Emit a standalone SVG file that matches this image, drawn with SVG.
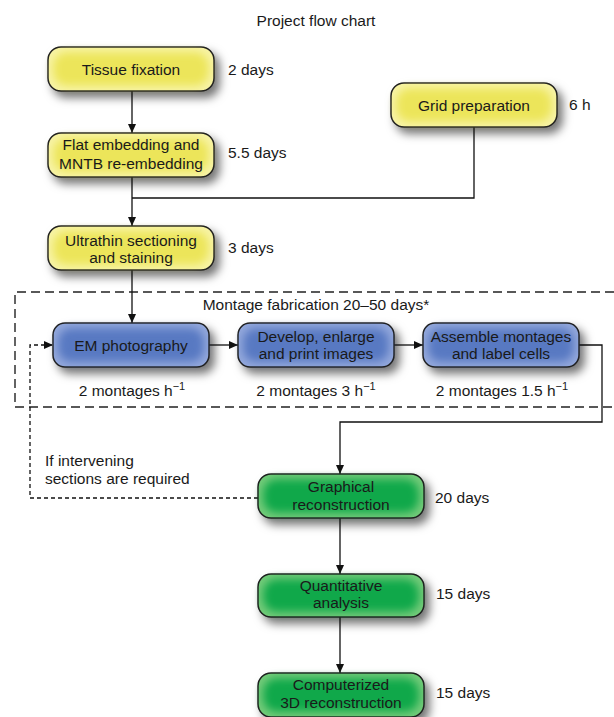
<svg xmlns="http://www.w3.org/2000/svg" width="614" height="717" viewBox="0 0 614 717">
<style>
text{font-family:"Liberation Sans",Arial,Helvetica,sans-serif;font-size:15.5px;fill:#1a1a1a}
.c{text-anchor:middle}
.box{stroke:#1e1e1e;stroke-width:1.5}
.y{fill:#f8f4a6;filter:url(#fy)}
.b{fill:#93a8dc;filter:url(#fb)}
.g{fill:#74cc7a;filter:url(#fg)}
.ln{fill:none;stroke:#111;stroke-width:1.3}
.dl{fill:none;stroke:#111;stroke-width:1.3;stroke-dasharray:4 3}
.frame{fill:none;stroke:#222;stroke-width:1.4;stroke-dasharray:9 5}
.sup{font-size:11px}
</style>
<defs>
<marker id="ah" markerUnits="userSpaceOnUse" markerWidth="9" markerHeight="8" refX="9" refY="4" orient="auto">
<path d="M0,0 L9,4 L0,8 z" fill="#111"/>
</marker>
<filter id="fy" x="-20%" y="-40%" width="150%" height="200%" color-interpolation-filters="sRGB">
<feMorphology in="SourceAlpha" operator="erode" radius="6" result="er"/>
<feGaussianBlur in="er" stdDeviation="4" result="bl"/>
<feFlood flood-color="#ece55a" result="fc"/>
<feComposite in="fc" in2="bl" operator="in" result="inner"/>
<feGaussianBlur in="SourceAlpha" stdDeviation="5" result="sb"/>
<feOffset in="sb" dx="5" dy="6" result="so"/>
<feFlood flood-color="#000" flood-opacity="0.55"/>
<feComposite in2="so" operator="in" result="shadow"/>
<feMerge><feMergeNode in="shadow"/><feMergeNode in="SourceGraphic"/><feMergeNode in="inner"/></feMerge>
</filter>
<filter id="fb" x="-20%" y="-40%" width="150%" height="200%" color-interpolation-filters="sRGB">
<feMorphology in="SourceAlpha" operator="erode" radius="6" result="er"/>
<feGaussianBlur in="er" stdDeviation="4" result="bl"/>
<feFlood flood-color="#5879c2" result="fc"/>
<feComposite in="fc" in2="bl" operator="in" result="inner"/>
<feGaussianBlur in="SourceAlpha" stdDeviation="5" result="sb"/>
<feOffset in="sb" dx="5" dy="6" result="so"/>
<feFlood flood-color="#000" flood-opacity="0.55"/>
<feComposite in2="so" operator="in" result="shadow"/>
<feMerge><feMergeNode in="shadow"/><feMergeNode in="SourceGraphic"/><feMergeNode in="inner"/></feMerge>
</filter>
<filter id="fg" x="-20%" y="-40%" width="150%" height="200%" color-interpolation-filters="sRGB">
<feMorphology in="SourceAlpha" operator="erode" radius="6" result="er"/>
<feGaussianBlur in="er" stdDeviation="4" result="bl"/>
<feFlood flood-color="#10a84a" result="fc"/>
<feComposite in="fc" in2="bl" operator="in" result="inner"/>
<feGaussianBlur in="SourceAlpha" stdDeviation="5" result="sb"/>
<feOffset in="sb" dx="5" dy="6" result="so"/>
<feFlood flood-color="#000" flood-opacity="0.55"/>
<feComposite in2="so" operator="in" result="shadow"/>
<feMerge><feMergeNode in="shadow"/><feMergeNode in="SourceGraphic"/><feMergeNode in="inner"/></feMerge>
</filter>
</defs>
<rect width="614" height="717" fill="#fff"/>
<text class="c" x="316" y="26">Project flow chart</text>

<g id="montage-frame">
<path class="frame" d="M614,292 H15 V407 H614"/>
<text class="c" x="316" y="310">Montage fabrication 20–50 days*</text>
</g>

<g id="connectors">
<path class="ln" d="M132,91 V133" marker-end="url(#ah)"/>
<path class="ln" d="M132,177 V226" marker-end="url(#ah)"/>
<path class="ln" d="M474,127 V198 H132"/>
<path class="ln" d="M132,270 V323" marker-end="url(#ah)"/>
<path class="ln" d="M209,345 H238" marker-end="url(#ah)"/>
<path class="ln" d="M394,345 H423" marker-end="url(#ah)"/>
<path class="ln" d="M579,345 H602 V422 H340 V474" marker-end="url(#ah)"/>
<path class="ln" d="M340,518 V574" marker-end="url(#ah)"/>
<path class="ln" d="M340,617 V673" marker-end="url(#ah)"/>
<path class="dl" d="M258,498 H30 V345 H53" marker-end="url(#ah)"/>
</g>

<g id="tissue-fixation">
<rect class="box y" x="48" y="47" width="166" height="44" rx="13"/>
<text class="c" x="131" y="75">Tissue fixation</text>
<text x="228" y="75">2 days</text>
</g>
<g id="flat-embedding">
<rect class="box y" x="48" y="133" width="166" height="44" rx="13"/>
<text class="c" x="131" y="150">Flat embedding and</text>
<text class="c" x="131" y="169">MNTB re-embedding</text>
<text x="228" y="158">5.5 days</text>
</g>
<g id="grid-preparation">
<rect class="box y" x="391" y="83" width="166" height="44" rx="13"/>
<text class="c" x="474" y="111">Grid preparation</text>
<text x="569" y="110">6 h</text>
</g>
<g id="ultrathin-sectioning">
<rect class="box y" x="48" y="226" width="166" height="44" rx="13"/>
<text class="c" x="131" y="246">Ultrathin sectioning</text>
<text class="c" x="131" y="263">and staining</text>
<text x="228" y="253">3 days</text>
</g>

<g id="em-photography">
<rect class="box b" x="53" y="323" width="156" height="44" rx="12"/>
<text class="c" x="131" y="351">EM photography</text>
<text class="c" x="132" y="396">2 montages h<tspan class="sup" dy="-6">−1</tspan></text>
</g>
<g id="develop-images">
<rect class="box b" x="238" y="323" width="156" height="44" rx="12"/>
<text class="c" x="316" y="342">Develop, enlarge</text>
<text class="c" x="316" y="359">and print images</text>
<text class="c" x="316" y="396">2 montages 3 h<tspan class="sup" dy="-6">−1</tspan></text>
</g>
<g id="assemble-montages">
<rect class="box b" x="423" y="323" width="156" height="44" rx="12"/>
<text class="c" x="501" y="342">Assemble montages</text>
<text class="c" x="501" y="359">and label cells</text>
<text class="c" x="502" y="396">2 montages 1.5 h<tspan class="sup" dy="-6">−1</tspan></text>
</g>

<g id="feedback-label">
<text x="45" y="466">If intervening</text>
<text x="45" y="484">sections are required</text>
</g>

<g id="graphical-reconstruction">
<rect class="box g" x="258" y="474" width="166" height="44" rx="13"/>
<text class="c" x="341" y="492">Graphical</text>
<text class="c" x="341" y="510">reconstruction</text>
<text x="435" y="503">20 days</text>
</g>
<g id="quantitative-analysis">
<rect class="box g" x="258" y="574" width="166" height="43" rx="13"/>
<text class="c" x="341" y="591">Quantitative</text>
<text class="c" x="341" y="608">analysis</text>
<text x="436" y="599">15 days</text>
</g>
<g id="computerized-reconstruction">
<rect class="box g" x="258" y="673" width="166" height="44" rx="13"/>
<text class="c" x="341" y="690">Computerized</text>
<text class="c" x="341" y="708">3D reconstruction</text>
<text x="436" y="698">15 days</text>
</g>
</svg>
